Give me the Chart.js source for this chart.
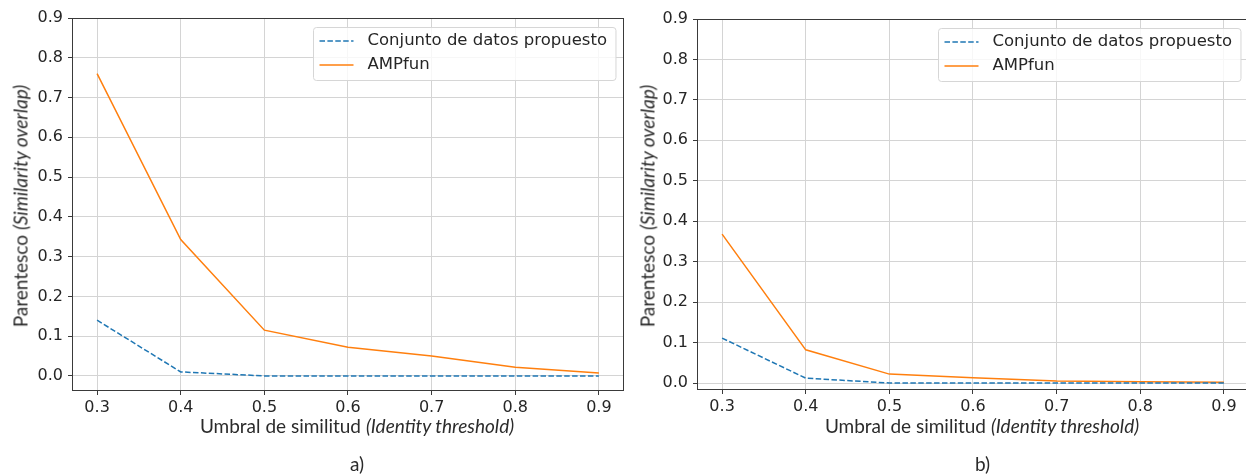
<!DOCTYPE html>
<html>
<head>
<meta charset="utf-8">
<script src="https://cdn.jsdelivr.net/npm/chart.js@4.4.1/dist/chart.umd.min.js"></script>
<style>
  html, body { margin: 0; padding: 0; background: #fff; overflow: hidden; width: 1246px; height: 476px; }
  canvas { position: absolute; top: 0; display: block; }
  .titulo { position: absolute; font-family: Lato, "Open Sans", sans-serif; font-size: 19px; line-height: 1; color: #2b2b2b; white-space: nowrap; }
  .ytitulo { transform: translate(-50%, -50%) rotate(-90deg); }
  .xtitulo { transform: translateX(-50%); }
</style>
</head>
<body>
<canvas id="grafico-a" width="640" height="476" style="left:0px"></canvas>
<canvas id="grafico-b" width="640" height="476" style="left:625px"></canvas>

<div class="titulo ytitulo" style="left:20px; top:206px">Parentesco <i>(Similarity overlap)</i></div>
<div class="titulo xtitulo" style="left:357px; top:416px">Umbral de similitud <i>(Identity threshold)</i></div>
<div class="titulo" style="left:350px; top:454px">a)</div>

<div class="titulo ytitulo" style="left:647px; top:206px">Parentesco <i>(Similarity overlap)</i></div>
<div class="titulo xtitulo" style="left:982px; top:416px">Umbral de similitud <i>(Identity threshold)</i></div>
<div class="titulo" style="left:975px; top:454px">b)</div>

<script>
// Datos
const umbrales = [0.3, 0.4, 0.5, 0.6, 0.7, 0.8, 0.9];
const propuestoA = [0.14, 0.01, 0, 0, 0, 0, 0];
const ampfunA = [0.76, 0.343, 0.115, 0.072, 0.05, 0.022, 0.007];
const propuestoB = [0.111, 0.012, 0, 0, 0, 0, 0];
const ampfunB = [0.368, 0.082, 0.022, 0.013, 0.005, 0.003, 0.002];
const yTicks = [0, 0.1, 0.2, 0.3, 0.4, 0.5, 0.6, 0.7, 0.8, 0.9];
const xTicks = [0.3, 0.4, 0.5, 0.6, 0.7, 0.8, 0.9];
const etiquetas = ["Conjunto de datos propuesto", "AMPfun"];

const azul = "#1f77b4";
const naranja = "#ff7f0e";
const gris = "#d4d4d4";
const ejes = "#3a3a3a";

Chart.defaults.font.family = '"DejaVu Sans", sans-serif';
Chart.defaults.font.size = 16;
Chart.defaults.color = "#262626";

// Marco de los ejes + leyenda estilo matplotlib
const marco = {
  id: "marco",
  afterDraw(chart) {
    const ctx = chart.ctx;
    const ca = chart.chartArea;
    ctx.save();
    ctx.strokeStyle = ejes;
    ctx.lineWidth = 1;
    const l = Math.round(ca.left) + 0.5, t = Math.round(ca.top) + 0.5;
    const r = Math.round(ca.right) - 0.5, b = Math.round(ca.bottom) - 0.5;
    ctx.strokeRect(l, t, r - l, b - t);

    // Leyenda
    ctx.font = '16.5px "DejaVu Sans"';
    const textW = Math.max(...chart.data.datasets.map(d => ctx.measureText(d.label).width));
    const w = 54 + textW + 9, h = 53;
    const x0 = Math.round(ca.right - 9 - w) + 0.5, y0 = Math.round(ca.top + 9) + 0.5;
    ctx.beginPath();
    ctx.roundRect(x0, y0, w, h, 3);
    ctx.fillStyle = "rgba(255,255,255,0.8)";
    ctx.fill();
    ctx.strokeStyle = "#d6d6d6";
    ctx.stroke();
    chart.data.datasets.forEach((d, i) => {
      const yRow = y0 + 13.5 + i * 24;
      ctx.beginPath();
      ctx.setLineDash(d.borderDash || []);
      ctx.strokeStyle = d.borderColor;
      ctx.lineWidth = d.borderWidth;
      ctx.moveTo(x0 + 6, yRow);
      ctx.lineTo(x0 + 40, yRow);
      ctx.stroke();
      ctx.setLineDash([]);
      ctx.fillStyle = "#262626";
      ctx.textBaseline = "middle";
      ctx.fillText(d.label, x0 + 54, yRow);
    });
    ctx.restore();
  }
};

function puntos(vals) {
  return umbrales.map((x, i) => ({ x: x, y: vals[i] }));
}

function crearGrafico(id, propuesto, ampfun, yMin, padTop, padBottom) {
  const ctx = document.getElementById(id).getContext("2d");
  return new Chart(ctx, {
    type: "line",
    data: {
      datasets: [
        {
          label: etiquetas[0],
          data: puntos(propuesto),
          borderColor: azul,
          borderWidth: 1.5,
          borderDash: [5.5, 2.4],
          pointRadius: 0,
          tension: 0,
          fill: false,
        },
        {
          label: etiquetas[1],
          data: puntos(ampfun),
          borderColor: naranja,
          borderWidth: 1.5,
          pointRadius: 0,
          tension: 0,
          fill: false,
        },
      ],
    },
    options: {
      responsive: false,
      animation: false,
      devicePixelRatio: 1,
      layout: { padding: { top: padTop, right: 16, bottom: padBottom, left: 0 } },
      plugins: { legend: { display: false }, tooltip: { enabled: false } },
      scales: {
        x: {
          type: "linear",
          min: 0.27,
          max: 0.93,
          afterBuildTicks: (s) => { s.ticks = xTicks.map(v => ({ value: v })); },
          afterFit: (s) => { s.height = 30; },
          border: { display: false },
          grid: { color: gris, lineWidth: 1, drawTicks: true, tickLength: 4, tickColor: ejes },
          ticks: { padding: 3, maxRotation: 0, autoSkip: false, callback: (v) => v.toFixed(1) },
        },
        y: {
          type: "linear",
          min: yMin,
          max: 0.9,
          afterBuildTicks: (s) => { s.ticks = yTicks.map(v => ({ value: v })); },
          afterFit: (s) => { s.width = 72; },
          border: { display: false },
          grid: { color: gris, lineWidth: 1, drawTicks: true, tickLength: 4, tickColor: ejes },
          ticks: { padding: 5, autoSkip: false, callback: (v) => v.toFixed(1) },
        },
      },
    },
    plugins: [marco],
  });
}

crearGrafico("grafico-a", propuestoA, ampfunA, -0.038, 18, 55);
crearGrafico("grafico-b", propuestoB, ampfunB, -0.0173, 19, 56);
</script>
</body>
</html>
